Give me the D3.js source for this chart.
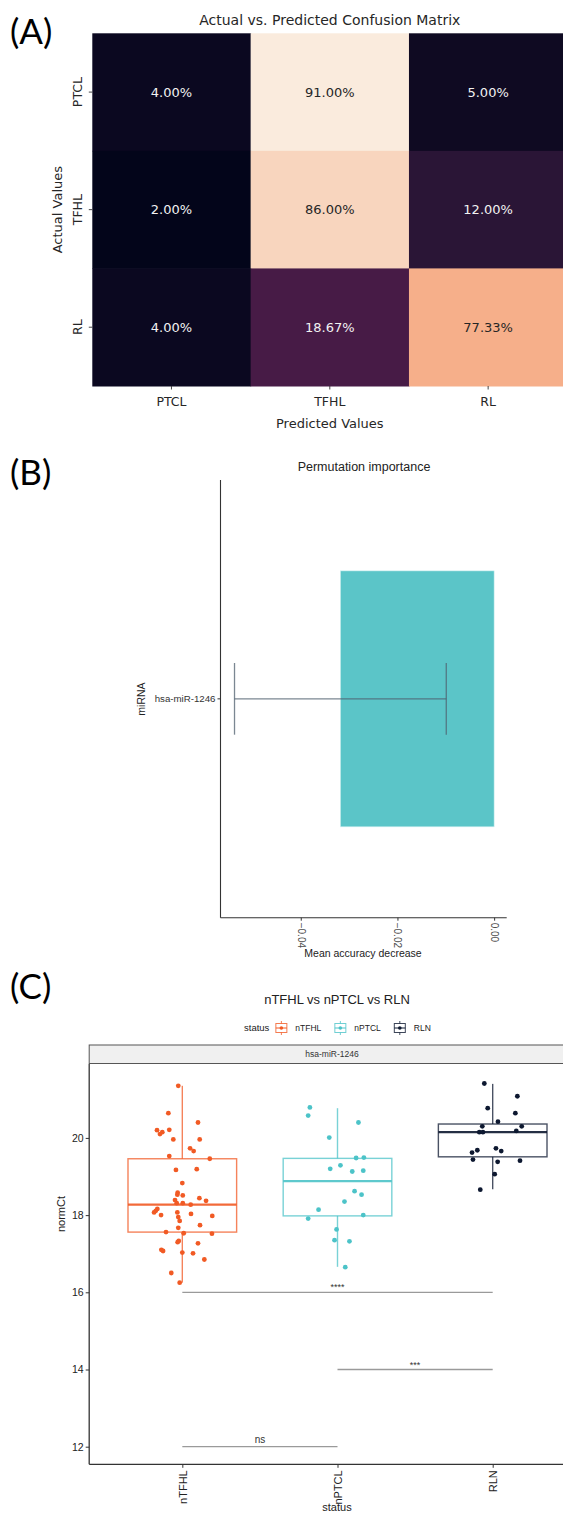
<!DOCTYPE html>
<html>
<head>
<meta charset="utf-8">
<script src="https://cdn.jsdelivr.net/npm/d3@7"></script>
<style>
  html, body { margin: 0; padding: 0; background: #fff; }
  svg { display: block; }
</style>
</head>
<body>
<svg id="chart" width="563" height="1515"></svg>
<script>
// ---------------- DATA ----------------
// Panel A: confusion matrix (percent)
const cmLabels = ["PTCL", "TFHL", "RL"];
const cmRowPTCL = [4.00, 91.00, 5.00];
const cmRowTFHL = [2.00, 86.00, 12.00];
const cmRowRL = [4.00, 18.67, 77.33];
const cmValues = [cmRowPTCL, cmRowTFHL, cmRowRL];

// Panel B: permutation importance
const piFeatures = ["hsa-miR-1246"];
const piMean = [-0.0318];
const piSd = [0.0219];
const piTicks = [-0.04, -0.02, 0.00];

// Panel C: normCt by status
const groups = ["nTFHL", "nPTCL", "RLN"];
const groupColors = ["#f15a24", "#4cc3c8", "#0d1830"];
const nTFHLvals = [21.35,20.64,20.40,20.20,20.21,20.15,20.10,19.96,19.96,19.73,19.66,19.53,19.46,19.17,19.19,18.83,18.58,18.53,18.51,18.44,18.37,18.39,18.31,18.31,18.27,18.16,18.11,18.07,18.07,18.03,18.00,17.98,17.95,17.85,17.74,17.67,17.56,17.53,17.52,17.33,17.30,17.27,17.10,17.07,17.03,17.01,16.85,16.50,16.25];
const nTFHLjit = [-0.026,-0.090,0.101,-0.163,-0.084,-0.129,-0.144,-0.058,0.112,0.050,0.073,-0.084,0.177,-0.041,0.093,0.000,-0.030,-0.032,0.003,0.110,0.153,-0.047,-0.036,0.003,0.054,-0.161,-0.171,-0.182,-0.032,0.056,-0.137,0.193,-0.026,-0.017,0.114,-0.026,-0.105,0.009,0.191,-0.023,-0.030,0.101,-0.135,-0.124,0.000,0.069,0.142,-0.071,-0.017];
const nPTCLvals = [20.79,20.58,20.40,20.01,19.48,19.49,19.20,19.29,19.13,19.15,18.62,18.53,18.35,18.14,17.91,18.00,17.63,17.35,17.32,16.65];
const nPTCLjit = [-0.178,-0.189,0.135,-0.053,0.120,0.170,-0.047,0.019,0.095,0.166,0.110,0.155,0.045,-0.122,-0.189,0.166,-0.006,-0.019,0.077,0.050];
const RLNvals = [21.41,21.08,20.77,20.64,20.42,20.30,20.30,20.15,20.15,20.18,19.73,19.66,19.68,19.62,19.44,19.38,19.41,19.06,18.66];
const RLNjit = [-0.054,0.159,-0.032,0.146,0.034,-0.067,0.187,-0.086,-0.063,0.152,0.021,0.055,-0.099,-0.133,-0.127,0.032,0.176,0.013,-0.080];
const boxLower = [16.25, 16.66, 18.67];
const boxQ1 = [17.56, 17.98, 19.51];
const boxMedian = [18.27, 18.88, 20.15];
const boxQ3 = [19.46, 19.47, 20.36];
const boxUpper = [21.35, 20.77, 21.40];
const yTicksC = [12, 14, 16, 18, 20];
const sigFrom = ["nTFHL", "nPTCL", "nTFHL"];
const sigTo = ["RLN", "RLN", "nPTCL"];
const sigY = [16, 14, 12];
const sigLabel = ["****", "***", "ns"];

// ---------------- DRAW ----------------
const svg = d3.select("#chart");
svg.append("rect").attr("width", 563).attr("height", 1515).attr("fill", "#fff");

const panelLabelFont = "Lato, 'Open Sans', sans-serif";
function panelLabel(txt, y) {
  svg.append("text").attr("x", 10).attr("y", y)
    .attr("font-family", panelLabelFont).attr("font-size", 35)
    .attr("fill", "#000").text(txt);
}
panelLabel("(A)", 44);
panelLabel("(B)", 485);
panelLabel("(C)", 999);

// ===== Panel A =====
(function () {
  const fA = "'DejaVu Sans', sans-serif";
  const gA = svg.append("g");
  const x = d3.scaleBand().domain(cmLabels).range([92.3, 567.3]);
  const y = d3.scaleBand().domain(cmLabels).range([33.3, 386]);
  const flat = cmValues.flat();
  const vmin = d3.min(flat), vmax = d3.max(flat);
  const rocketStops = ["#03051a", "#35193e", "#701f57", "#ad1759", "#e13342", "#f37651", "#f6b48f", "#faebdd"];
  const rocket = d3.scaleLinear()
    .domain(rocketStops.map((_, i) => i / (rocketStops.length - 1)))
    .range(rocketStops).interpolate(d3.interpolateRgb);
  const norm = v => (v - vmin) / (vmax - vmin);
  const cells = [];
  cmValues.forEach((row, i) => row.forEach((v, j) => cells.push({ r: cmLabels[i], c: cmLabels[j], v })));
  gA.selectAll("rect.cell").data(cells).enter().append("rect")
    .attr("x", d => x(d.c)).attr("y", d => y(d.r))
    .attr("width", x.bandwidth() + 0.5).attr("height", y.bandwidth() + 0.5)
    .attr("fill", d => rocket(norm(d.v)));
  gA.selectAll("text.cell").data(cells).enter().append("text")
    .attr("x", d => x(d.c) + x.bandwidth() / 2).attr("y", d => y(d.r) + y.bandwidth() / 2)
    .attr("dy", "0.35em").attr("text-anchor", "middle")
    .attr("font-family", fA).attr("font-size", 13)
    .attr("fill", d => norm(d.v) > 0.6 ? "#262626" : "#f2f2f2")
    .text(d => d.v.toFixed(2) + "%");
  // title
  gA.append("text").attr("x", (92.3 + 567.3) / 2).attr("y", 25)
    .attr("text-anchor", "middle").attr("font-family", fA).attr("font-size", 14)
    .attr("fill", "#262626").text("Actual vs. Predicted Confusion Matrix");
  // x axis
  const xAxis = d3.axisBottom(x).tickSize(3.5).tickPadding(8);
  const gx = gA.append("g").attr("transform", "translate(0,386)").call(xAxis);
  gx.select(".domain").remove();
  gx.selectAll("line").attr("stroke", "#333").attr("stroke-width", 0.9);
  gx.selectAll("text").attr("font-family", fA).attr("font-size", 12.5).attr("fill", "#262626");
  gA.append("text").attr("x", (92.3 + 567.3) / 2 - 0).attr("y", 428)
    .attr("text-anchor", "middle").attr("font-family", fA).attr("font-size", 13)
    .attr("fill", "#262626").text("Predicted Values");
  // y axis
  const yAxis = d3.axisLeft(y).tickSize(3.5).tickPadding(3.5);
  const gy = gA.append("g").attr("transform", "translate(92.3,0)").call(yAxis);
  gy.select(".domain").remove();
  gy.selectAll("line").attr("stroke", "#333").attr("stroke-width", 0.9);
  gy.selectAll("text").attr("font-family", fA).attr("font-size", 12.5).attr("fill", "#262626")
    .attr("text-anchor", "middle").attr("dy", "0")
    .attr("transform", "translate(-10,0) rotate(-90)")
    .attr("x", 0).attr("y", 0);
  gA.append("text").attr("transform", "translate(62," + ((33.3 + 386) / 2) + ") rotate(-90)")
    .attr("text-anchor", "middle").attr("font-family", fA).attr("font-size", 13)
    .attr("fill", "#262626").text("Actual Values");
})();

// ===== Panel B =====
(function () {
  const fB = "'Liberation Sans', Arial, sans-serif";
  const gB = svg.append("g");
  const left = 220.5, right = 506.7, top = 480, bottom = 917.7;
  const x = d3.scaleLinear().domain([-0.0566, 0.0026]).range([left, right]);
  const y = d3.scaleBand().domain(piFeatures).range([top, bottom]).padding(0.262);
  gB.append("text").attr("x", 364).attr("y", 471).attr("text-anchor", "middle")
    .attr("font-family", fB).attr("font-size", 12.5).attr("fill", "#222").text("Permutation importance");
  // bars
  gB.selectAll("rect.bar").data(piFeatures).enter().append("rect")
    .attr("x", (d, i) => x(Math.min(0, piMean[i])))
    .attr("y", d => y(d))
    .attr("width", (d, i) => Math.abs(x(piMean[i]) - x(0)))
    .attr("height", y.bandwidth())
    .attr("fill", "#5bc5c8").attr("stroke", "#d2f0f1").attr("stroke-width", 0.6);
  // error bars
  const capH = y.bandwidth() * 0.28;
  piFeatures.forEach((d, i) => {
    const cy = y(d) + y.bandwidth() / 2;
    const x0 = x(piMean[i] - piSd[i]), x1 = x(piMean[i] + piSd[i]);
    const eg = gB.append("g").attr("stroke", "#4f5f6e").attr("stroke-opacity", 0.75).attr("stroke-width", 1.3);
    eg.append("line").attr("x1", x0).attr("x2", x1).attr("y1", cy).attr("y2", cy);
    eg.append("line").attr("x1", x0).attr("x2", x0).attr("y1", cy - capH / 2).attr("y2", cy + capH / 2);
    eg.append("line").attr("x1", x1).attr("x2", x1).attr("y1", cy - capH / 2).attr("y2", cy + capH / 2);
  });
  // axes
  const gx = gB.append("g").attr("transform", "translate(0," + bottom + ")")
    .call(d3.axisBottom(x).tickValues(piTicks).tickFormat(d3.format(".2f")).tickSize(3).tickPadding(2));
  gx.select(".domain").attr("stroke", "#333").attr("stroke-width", 1.1).attr("d", "M" + left + ",0H" + right);
  gx.selectAll("line").attr("stroke", "#333");
  gx.selectAll("text").attr("font-family", fB).attr("font-size", 10).attr("fill", "#4d4d4d")
    .attr("transform", "rotate(90)").attr("text-anchor", "start")
    .attr("x", 5).attr("y", 0).attr("dy", "0.35em");
  const gy = gB.append("g").attr("transform", "translate(" + left + ",0)")
    .call(d3.axisLeft(y).tickSize(3).tickPadding(2));
  gy.select(".domain").attr("stroke", "#333").attr("stroke-width", 1.1).attr("d", "M0," + top + "V" + bottom);
  gy.selectAll("line").attr("stroke", "#333");
  gy.selectAll("text").attr("font-family", fB).attr("font-size", 9.7).attr("fill", "#333");
  gB.append("text").attr("x", 363).attr("y", 957).attr("text-anchor", "middle")
    .attr("font-family", fB).attr("font-size", 10.5).attr("fill", "#222").text("Mean accuracy decrease");
  gB.append("text").attr("transform", "translate(145,699) rotate(-90)").attr("text-anchor", "middle")
    .attr("font-family", fB).attr("font-size", 10.5).attr("fill", "#222").text("miRNA");
})();

// ===== Panel C =====
(function () {
  const fC = "'Liberation Sans', Arial, sans-serif";
  const gC = svg.append("g");
  const left = 89.2, right = 585.8, top = 1064, bottom = 1464.3;
  const x = d3.scalePoint().domain(groups).range([left, right]).padding(0.6);
  const step = x.step();
  const y = d3.scaleLinear().domain([11.544, 21.915]).range([bottom, top]);
  const color = d3.scaleOrdinal().domain(groups).range(groupColors);

  // title
  gC.append("text").attr("x", 337).attr("y", 1004).attr("text-anchor", "middle")
    .attr("font-family", fC).attr("font-size", 13).attr("fill", "#222").text("nTFHL vs nPTCL vs RLN");
  // legend
  const lg = gC.append("g");
  let lx = 244;
  const ly = 1028;
  const st = lg.append("text").attr("x", lx).attr("y", ly).attr("dy", "0.35em")
    .attr("font-family", fC).attr("font-size", 9.5).attr("fill", "#222").text("status");
  lx += st.node().getComputedTextLength() + 6;
  groups.forEach((g, i) => {
    const c = color(g);
    const k = lg.append("g").attr("transform", "translate(" + lx + "," + ly + ")");
    k.append("line").attr("x1", 6).attr("x2", 6).attr("y1", -7).attr("y2", 7).attr("stroke", c).attr("stroke-width", 1).attr("stroke-opacity", 0.8);
    k.append("rect").attr("x", 0.5).attr("y", -4.5).attr("width", 11).attr("height", 9).attr("fill", "#fff").attr("stroke", c).attr("stroke-width", 1).attr("stroke-opacity", 0.8);
    k.append("line").attr("x1", 0.5).attr("x2", 11.5).attr("y1", 0).attr("y2", 0).attr("stroke", c).attr("stroke-width", 1);
    k.append("circle").attr("cx", 6).attr("cy", 0).attr("r", 1.8).attr("fill", c);
    lx += 20;
    const t = lg.append("text").attr("x", lx).attr("y", ly).attr("dy", "0.35em")
      .attr("font-family", fC).attr("font-size", 8.5).attr("fill", "#222").text(g);
    lx += t.node().getComputedTextLength() + 13;
  });

  // strip
  gC.append("rect").attr("x", left).attr("y", 1045).attr("width", right - left).attr("height", 18.5)
    .attr("fill", "#f0f0f0").attr("stroke", "#555").attr("stroke-width", 1);
  gC.append("text").attr("x", 332).attr("y", 1054.5).attr("dy", "0.35em").attr("text-anchor", "middle")
    .attr("font-family", fC).attr("font-size", 8.5).attr("fill", "#333").text("hsa-miR-1246");

  // boxes
  const bw = step * 0.7;
  groups.forEach((g, i) => {
    const c = color(g);
    const cx = x(g);
    const bg = gC.append("g");
    bg.append("line").attr("x1", cx).attr("x2", cx).attr("y1", y(boxQ3[i])).attr("y2", y(boxUpper[i]))
      .attr("stroke", c).attr("stroke-width", 1.4).attr("stroke-opacity", 0.75);
    bg.append("line").attr("x1", cx).attr("x2", cx).attr("y1", y(boxQ1[i])).attr("y2", y(boxLower[i]))
      .attr("stroke", c).attr("stroke-width", 1.4).attr("stroke-opacity", 0.75);
    bg.append("rect").attr("x", cx - bw / 2).attr("y", y(boxQ3[i]))
      .attr("width", bw).attr("height", y(boxQ1[i]) - y(boxQ3[i]))
      .attr("fill", "none").attr("stroke", c).attr("stroke-width", 1.4).attr("stroke-opacity", 0.75);
    bg.append("line").attr("x1", cx - bw / 2).attr("x2", cx + bw / 2).attr("y1", y(boxMedian[i])).attr("y2", y(boxMedian[i]))
      .attr("stroke", c).attr("stroke-width", 2.2).attr("stroke-opacity", 0.9);
  });

  // points
  const valsByGroup = [nTFHLvals, nPTCLvals, RLNvals];
  const jitByGroup = [nTFHLjit, nPTCLjit, RLNjit];
  groups.forEach((g, i) => {
    const pts = valsByGroup[i].map((v, k) => ({ v, j: jitByGroup[i][k] }));
    gC.append("g").selectAll("circle").data(pts).enter().append("circle")
      .attr("cx", d => x(g) + d.j * step).attr("cy", d => y(d.v)).attr("r", 2.4)
      .attr("fill", color(g));
  });

  // significance brackets
  sigLabel.forEach((lab, i) => {
    const x0 = x(sigFrom[i]), x1 = x(sigTo[i]), yy = y(sigY[i]);
    gC.append("line").attr("x1", x0).attr("x2", x1).attr("y1", yy).attr("y2", yy)
      .attr("stroke", "#9a9a9a").attr("stroke-width", 1.3);
    gC.append("text").attr("x", (x0 + x1) / 2).attr("y", yy - (lab === "ns" ? 4 : 2))
      .attr("text-anchor", "middle").attr("font-family", fC).attr("font-size", lab === "ns" ? 10 : 9)
      .attr("fill", "#333").text(lab);
  });

  // axes
  const gy = gC.append("g").attr("transform", "translate(" + left + ",0)")
    .call(d3.axisLeft(y).tickValues(yTicksC).tickSize(3.5).tickPadding(2));
  gy.select(".domain").attr("stroke", "#333").attr("stroke-width", 1.3).attr("d", "M0," + top + "V" + bottom);
  gy.selectAll("line").attr("stroke", "#333");
  gy.selectAll("text").attr("font-family", fC).attr("font-size", 10.5).attr("fill", "#222");
  const gx = gC.append("g").attr("transform", "translate(0," + bottom + ")")
    .call(d3.axisBottom(x).tickSize(3.5).tickPadding(2));
  gx.select(".domain").attr("stroke", "#333").attr("stroke-width", 1.3).attr("d", "M" + left + ",0H" + right);
  gx.selectAll("line").attr("stroke", "#333");
  gx.selectAll("text").attr("font-family", fC).attr("font-size", 11).attr("fill", "#222")
    .attr("transform", "rotate(-90)").attr("text-anchor", "end")
    .attr("x", -6).attr("y", 0).attr("dy", "0.35em");
  gC.append("text").attr("transform", "translate(65,1214) rotate(-90)").attr("text-anchor", "middle")
    .attr("font-family", fC).attr("font-size", 11).attr("fill", "#222").text("normCt");
  gC.append("text").attr("x", 337).attr("y", 1511).attr("text-anchor", "middle")
    .attr("font-family", fC).attr("font-size", 11).attr("fill", "#222").text("status");
})();
</script>
</body>
</html>
